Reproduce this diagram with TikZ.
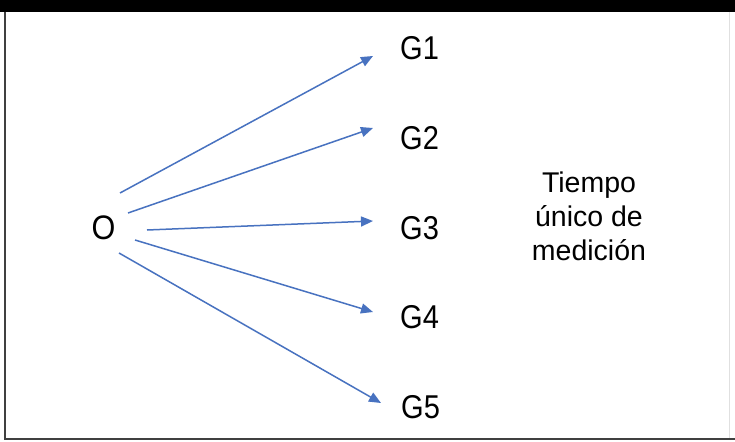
\documentclass[tikz,border=0pt]{standalone}
\usepackage{fontspec}
\setmainfont{Liberation Sans}
\usetikzlibrary{arrows.meta}
\definecolor{arrowblue}{RGB}{72,114,192}
\begin{document}
\begin{tikzpicture}[x=1pt,y=-1pt,
  lbl/.style={anchor=base west, inner sep=0pt, xscale=0.88, font=\fontsize{33}{38}\selectfont},
  link/.style={draw=arrowblue, line width=1.5pt, -{Triangle[length=12pt,width=10pt]}}]
\useasboundingbox (0,0) rectangle (735,441);
% frame
\fill[white] (0,0) rectangle (735,441);
\fill[black] (0,0) rectangle (735,12);
\draw[black!75, line width=1.5pt] (5,12) -- (5,439) -- (735,439);
\draw[black!12, line width=1pt] (729,12) -- (729,438);

% source and groups
\node[anchor=base, inner sep=0pt, xscale=0.9, font=\fontsize{34}{38}\selectfont] (o) at (103.5,239) {O};
\node[lbl] (g1) at (400,60) {G1};
\node[lbl] (g2) at (400,149.5) {G2};
\node[lbl] (g3) at (400,239) {G3};
\node[lbl] (g4) at (400,328.5) {G4};
\node[lbl] (g5) at (401,418) {G5};

\node[anchor=base, align=center, inner sep=0pt, font=\fontsize{28.5}{34}\selectfont] (t) at (589,260)
  {Tiempo\\único de\\medición};

% arrow end points
\coordinate (s1) at (120,193);  \coordinate (e1) at (373,56);
\coordinate (s2) at (128,213);  \coordinate (e2) at (373,128);
\coordinate (s3) at (147,230);  \coordinate (e3) at (373,221);
\coordinate (s4) at (135,240);  \coordinate (e4) at (373,312);
\coordinate (s5) at (119,253);  \coordinate (e5) at (381,403);

\foreach \i in {1,...,5} \draw[link] (s\i) -- (e\i);
\end{tikzpicture}
\end{document}
